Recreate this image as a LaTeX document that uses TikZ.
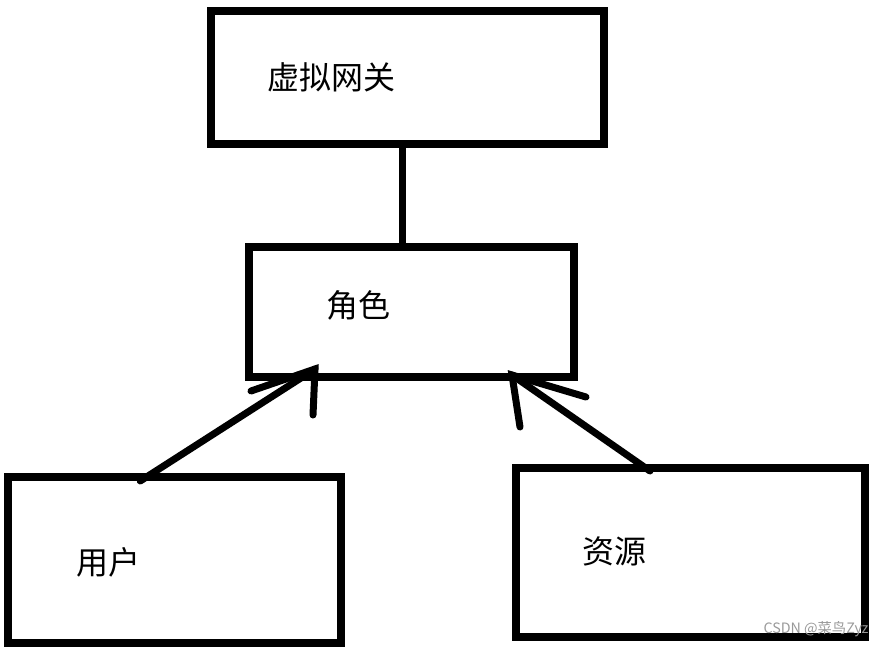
\documentclass[tikz,border=0pt]{standalone}
\usepackage{fontspec}
\newfontfamily\cjk{Noto Sans CJK SC}
\begin{document}
\begin{tikzpicture}[x=1pt,y=-1pt,
  box/.style={draw=black,line width=8pt,minimum width=#1,inner sep=0pt,outer sep=0pt},
  lbl/.style={inner sep=0pt,font=\cjk\fontsize{32}{32}\selectfont},
  conn/.style={line width=7pt,line cap=round},
  wmark/.style={font=\cjk\fontsize{14.3}{14.3}\selectfont,text=black!40,inner sep=0pt}]
\useasboundingbox (0,0) rectangle (885,647);
\node[box=393pt,minimum height=133pt] (gw) at (407.5,77.5) {};
\node[box=325.5pt,minimum height=129.5pt] (role) at (411.25,311.75) {};
\node[box=333.5pt,minimum height=166pt] (user) at (174.25,560) {};
\node[box=349pt,minimum height=169pt] (res) at (690.5,552.5) {};
\node[lbl] (tgw) at (331.5,77) {虚拟网关};
\node[lbl] (trole) at (358.5,305) {角色};
\node[lbl] (tuser) at (108,562) {用户};
\node[lbl] (tres) at (614.5,551) {资源};
\node[wmark] (wm) at (816,629) {CSDN @菜鸟Zyz};
% connector gateway - role
\draw[line width=7pt] ([xshift=-5.5pt]gw.south) -- ([xshift=-9.25pt]role.north);
% arrow user -> role
\coordinate (t1) at (315,369);
\coordinate (b1a) at (251,391);
\coordinate (b1b) at (313,415);
\draw[conn] ([xshift=-34pt,yshift=-4pt]user.north) -- (t1);
\draw[conn] (b1a) -- (t1) -- (b1b);
% arrow resource -> role
\coordinate (t2) at (512,375);
\coordinate (b2a) at (520,427);
\coordinate (b2b) at (586,397);
\draw[conn] ([xshift=-40.5pt,yshift=-3pt]res.north) -- (t2);
\draw[conn] (b2a) -- (t2) -- (b2b);
\end{tikzpicture}
\end{document}
